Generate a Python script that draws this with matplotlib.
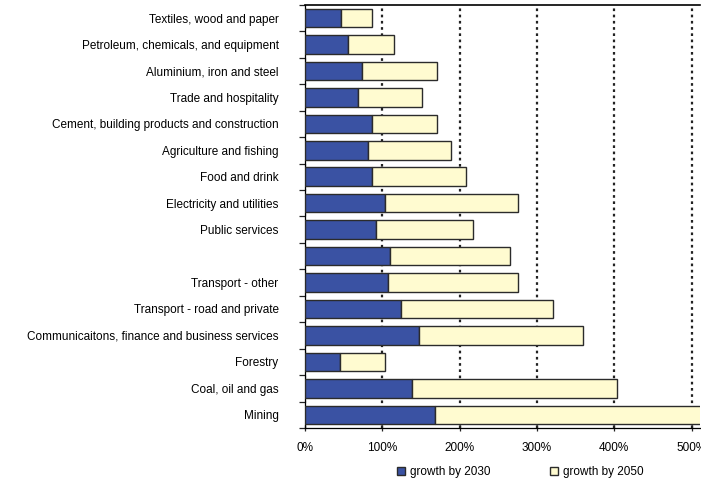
import numpy as np
import matplotlib
matplotlib.use('Agg')
import matplotlib.pyplot as plt
from matplotlib.ticker import FuncFormatter, FixedLocator

plt.rcParams['font.family'] = ['Liberation Sans', 'DejaVu Sans']

sectors = ['Textiles, wood and paper',
           'Petroleum, chemicals, and equipment',
           'Aluminium, iron and steel',
           'Trade and hospitality',
           'Cement, building products and construction',
           'Agriculture and fishing',
           'Food and drink',
           'Electricity and utilities',
           'Public services',
           '',
           'Transport - other',
           'Transport - road and private',
           'Communicaitons, finance and business services',
           'Forestry',
           'Coal, oil and gas',
           'Mining']

# growth (%) relative to today
growth_2030 = [46, 56, 74, 68, 87, 82, 87, 104, 92, 110, 108, 124, 148, 45, 139, 168]
growth_2050 = [87, 115, 171, 151, 171, 189, 208, 275, 218, 265, 275, 321, 360, 103, 404, 530]

blue = '#3A52A3'
cream = '#FFFBD0'
edge = '#2b2b2b'

fig = plt.figure(figsize=(7.01, 4.82), dpi=100)
ax = fig.add_axes([0.435, 0.112, 0.5636, 0.878])

y = np.arange(len(sectors))
g30 = np.array(growth_2030)
g50 = np.array(growth_2050)

ax.barh(y, g30, height=0.7, color=blue, edgecolor=edge, linewidth=1.0,
        label='growth by 2030', zorder=3)
ax.barh(y, g50 - g30, left=g30, height=0.7, color=cream, edgecolor=edge,
        linewidth=1.0, label='growth by 2050', zorder=3)

ax.set_xlim(0, 511)
ax.set_ylim(len(sectors) - 0.5, -0.5)

ax.set_xticks([0, 100, 200, 300, 400, 500])
ax.xaxis.set_major_formatter(FuncFormatter(lambda v, p: f'{int(v)}%'))
ax.grid(axis='x', color='#222222', linestyle=(0, (1.2, 1.6)), linewidth=1.6, zorder=1)

ax.set_yticks(y)
ax.set_yticklabels(sectors)
ax.yaxis.set_minor_locator(FixedLocator(np.arange(-0.5, len(sectors), 1)))
ax.tick_params(axis='y', which='major', length=0, pad=19, labelsize=8.5)
ax.tick_params(axis='y', which='minor', length=4, width=0.9, direction='out', color='#222222')
ax.tick_params(axis='x', length=4, width=0.9, direction='inout', pad=8, labelsize=8.5,
               color='#222222')

ax.spines['right'].set_visible(False)
ax.spines['top'].set_linewidth(1.2)
ax.spines['left'].set_linewidth(0.9)
ax.spines['bottom'].set_linewidth(0.9)

handles, labels = ax.get_legend_handles_labels()
fig.legend(handles, labels, loc='center', bbox_to_anchor=(0.742, 0.021), ncol=2,
           frameon=False, fontsize=8.5, handlelength=0.7, handleheight=0.7,
           handletextpad=0.4, columnspacing=5.0)

fig.savefig('out.png', dpi=100)
